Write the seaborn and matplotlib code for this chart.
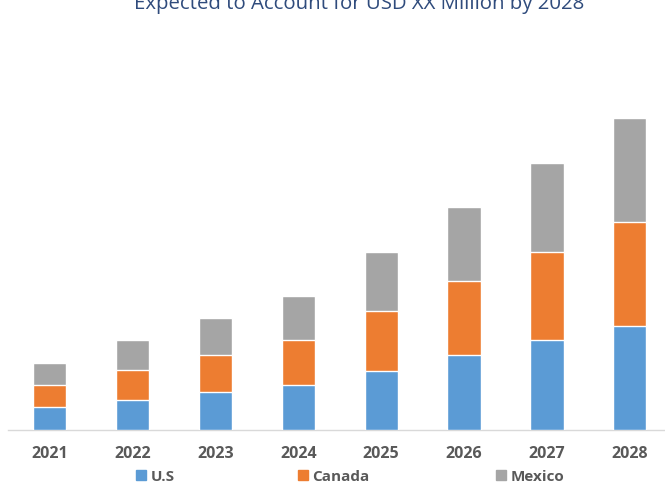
import pandas as pd
import matplotlib
matplotlib.use('Agg')
import matplotlib.pyplot as plt
import seaborn as sns
from matplotlib.patches import Patch

# values (no y axis in source, arbitrary units)
years = ['2021', '2022', '2023', '2024', '2025', '2026', '2027', '2028']
us = [22.8, 29.8, 37.5, 44.5, 58.8, 74.5, 89.5, 103.5]
canada = [21.7, 29.4, 37.3, 45.0, 60.0, 73.7, 88.0, 104.3]
mexico = [22.3, 30.0, 36.4, 44.0, 58.4, 74.0, 89.0, 103.4]
series = ['U.S', 'Canada', 'Mexico']

blue, orange, grey = '#5B9BD5', '#ED7D31', '#A5A5A5'

df = pd.DataFrame({'year': years, 'U.S': us, 'Canada': canada, 'Mexico': mexico})
df['us_can'] = df['U.S'] + df['Canada']
df['total'] = df['us_can'] + df['Mexico']

sns.set_style('white')
plt.rcParams['font.family'] = ['Open Sans', 'DejaVu Sans']

fig = plt.figure(figsize=(6.65, 4.85), dpi=100)
ax = fig.add_axes([8 / 665, 1 - 430.5 / 485, 657 / 665, 430.5 / 485])

# stacked bars drawn as cumulative layers
sns.barplot(data=df, x='year', y='total', color=grey, width=0.4, saturation=1, ax=ax, zorder=2)
sns.barplot(data=df, x='year', y='us_can', color=orange, width=0.4, saturation=1, ax=ax, zorder=3)
sns.barplot(data=df, x='year', y='U.S', color=blue, width=0.4, saturation=1, ax=ax, zorder=4)

ax.set_xlim(-0.5006, 7.424)
ax.set_ylim(0, 430.5)
ax.set_xlabel('')
ax.set_ylabel('')
ax.set_yticks([])
ax.tick_params(axis='x', length=0, pad=11.5, labelsize=11.5, labelcolor='#595959')
for t in ax.get_xticklabels():
    t.set_fontweight('bold')
for s in ['top', 'left', 'right']:
    ax.spines[s].set_visible(False)
ax.spines['bottom'].set_color('#D9D9D9')
ax.spines['bottom'].set_linewidth(1)
ax.patch.set_alpha(0)

fig.text(359 / 665, 1 - 8.5 / 485, 'Expected to Account for USD XX Million by 2028',
         ha='center', va='baseline', fontsize=14.7, color='#2F4B7C')

# one legend per entry so the uneven spacing of the original is kept
leg_x = [136, 298, 496]
for name, col, x in zip(series, [blue, orange, grey], leg_x):
    leg = fig.legend(handles=[Patch(color=col, label=name)], loc='center left',
                     bbox_to_anchor=(x / 665, 1 - 477.5 / 485), frameon=False,
                     handlelength=0.65, handleheight=0.65, handletextpad=0.3,
                     borderpad=0, borderaxespad=0,
                     prop={'size': 11, 'weight': 'bold'})
    leg.get_texts()[0].set_color('#595959')

fig.savefig('out.png', dpi=100)
